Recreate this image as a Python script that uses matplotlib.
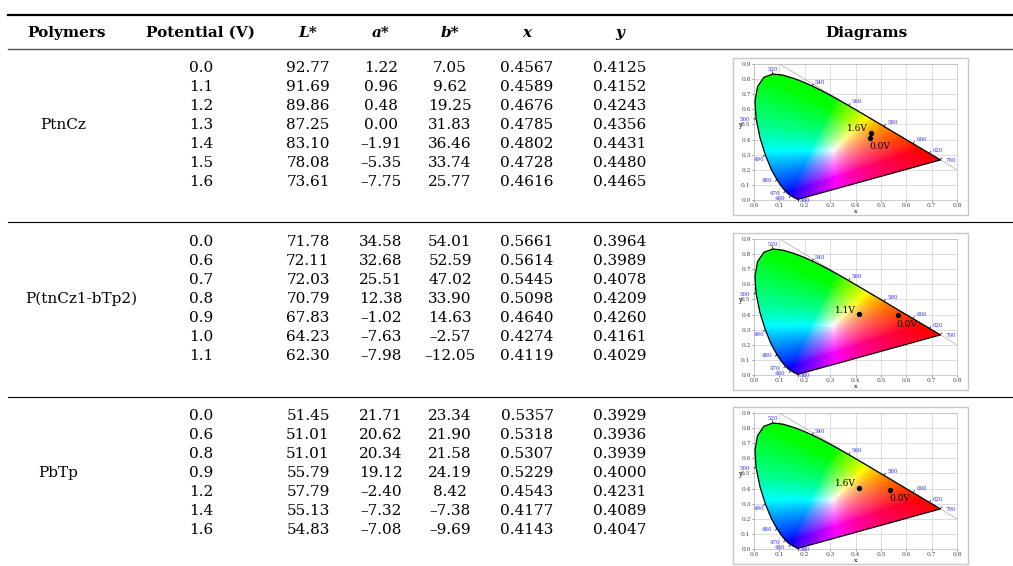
import numpy as np
import matplotlib
matplotlib.use("Agg")
import matplotlib.pyplot as plt
from matplotlib.patches import Polygon, Rectangle

plt.rcParams["font.family"] = ["DejaVu Serif"]

W, H = 1013, 566

# ---- table data ----
polymers = ["PtnCz", "P(tnCz1-bTp2)", "PbTp"]
potentials = [
    ["0.0", "1.1", "1.2", "1.3", "1.4", "1.5", "1.6"],
    ["0.0", "0.6", "0.7", "0.8", "0.9", "1.0", "1.1"],
    ["0.0", "0.6", "0.8", "0.9", "1.2", "1.4", "1.6"],
]
L_star = [
    [92.77, 91.69, 89.86, 87.25, 83.10, 78.08, 73.61],
    [71.78, 72.11, 72.03, 70.79, 67.83, 64.23, 62.30],
    [51.45, 51.01, 51.01, 55.79, 57.79, 55.13, 54.83],
]
a_star = [
    [1.22, 0.96, 0.48, 0.00, -1.91, -5.35, -7.75],
    [34.58, 32.68, 25.51, 12.38, -1.02, -7.63, -7.98],
    [21.71, 20.62, 20.34, 19.12, -2.40, -7.32, -7.08],
]
b_star = [
    [7.05, 9.62, 19.25, 31.83, 36.46, 33.74, 25.77],
    [54.01, 52.59, 47.02, 33.90, 14.63, -2.57, -12.05],
    [23.34, 21.90, 21.58, 24.19, 8.42, -7.38, -9.69],
]
cie_x = [
    [0.4567, 0.4589, 0.4676, 0.4785, 0.4802, 0.4728, 0.4616],
    [0.5661, 0.5614, 0.5445, 0.5098, 0.4640, 0.4274, 0.4119],
    [0.5357, 0.5318, 0.5307, 0.5229, 0.4543, 0.4177, 0.4143],
]
cie_y = [
    [0.4125, 0.4152, 0.4243, 0.4356, 0.4431, 0.4480, 0.4465],
    [0.3964, 0.3989, 0.4078, 0.4209, 0.4260, 0.4161, 0.4029],
    [0.3929, 0.3936, 0.3939, 0.4000, 0.4231, 0.4089, 0.4047],
]

# CIE 1931 spectral locus (nm, x, y)
locus_nm = [380, 390, 400, 410, 420, 430, 440, 450, 460, 465, 470, 475, 480, 485,
            490, 495, 500, 505, 510, 515, 520, 525, 530, 535, 540, 545, 550, 555,
            560, 565, 570, 575, 580, 585, 590, 595, 600, 605, 610, 620, 630, 640,
            650, 660, 680, 700]
locus_x = [0.1741, 0.1738, 0.1733, 0.1726, 0.1714, 0.1689, 0.1644, 0.1566, 0.1440,
           0.1355, 0.1241, 0.1096, 0.0913, 0.0687, 0.0454, 0.0235, 0.0082, 0.0039,
           0.0139, 0.0389, 0.0743, 0.1142, 0.1547, 0.1929, 0.2296, 0.2658, 0.3016,
           0.3373, 0.3731, 0.4087, 0.4441, 0.4788, 0.5125, 0.5448, 0.5752, 0.6029,
           0.6270, 0.6482, 0.6658, 0.6915, 0.7079, 0.7190, 0.7260, 0.7300, 0.7334,
           0.7347]
locus_y = [0.0050, 0.0049, 0.0048, 0.0048, 0.0051, 0.0069, 0.0109, 0.0177, 0.0297,
           0.0399, 0.0578, 0.0868, 0.1327, 0.2007, 0.2950, 0.4127, 0.5384, 0.6548,
           0.7502, 0.8120, 0.8338, 0.8262, 0.8059, 0.7816, 0.7543, 0.7243, 0.6923,
           0.6589, 0.6245, 0.5896, 0.5547, 0.5202, 0.4866, 0.4544, 0.4242, 0.3965,
           0.3725, 0.3514, 0.3340, 0.3083, 0.2920, 0.2809, 0.2740, 0.2700, 0.2666,
           0.2653]
# wavelength labels and their pixel offsets from the locus point
wl_labels = [520, 540, 560, 580, 600, 620, 700, 500, 490, 480, 470, 460, 380]
wl_dx = [0, 8, 8, 9, 9, 8, 10, -11, -6, -10, -10, -10, 7]
wl_dy = [5, 4, 4, 4, 4, 3, -1, -1, -4, -1, -2, -3, -1]


def fx(px):
    return px / W


def fy(py):
    return 1 - py / H


def fmt(v):
    return f"{v:.2f}".replace("-", "\u2013")


def gamut_image(n=500):
    xs = np.linspace(0, 0.8, n)
    ys = np.linspace(0.001, 0.9, n)
    gx, gy = np.meshgrid(xs, ys)
    X = gx / gy
    Y = np.ones_like(gx)
    Z = (1 - gx - gy) / gy
    r = 3.2406 * X - 1.5372 * Y - 0.4986 * Z
    g = -0.9689 * X + 1.8758 * Y + 0.0415 * Z
    b = 0.0557 * X - 0.2040 * Y + 1.0570 * Z
    rgb = np.clip(np.dstack([r, g, b]), 0, None)
    rgb = rgb / np.maximum(rgb.max(axis=2, keepdims=True), 1e-9)
    # mild gamma only, keeps the fan look of the reference
    rgb = rgb ** (1 / 1.4)
    return np.clip(rgb, 0, 1)


fig = plt.figure(figsize=(W / 100, H / 100), dpi=100)

# ---- rules ----
def hline(y, lw, color="black"):
    fig.add_artist(plt.Line2D([fx(8), 1], [fy(y), fy(y)], lw=lw, color=color))

hline(15, 1.6)
hline(49, 1.0, "#555555")
hline(222, 0.8)
hline(397, 0.8)

# ---- header ----
hdr_y = 33
fig.text(fx(67), fy(hdr_y), "Polymers", ha="center", va="center", fontsize=11, weight="bold")
fig.text(fx(201), fy(hdr_y), "Potential (V)", ha="center", va="center", fontsize=11, weight="bold")
for cx, lab in zip([308, 381, 450, 527, 620], ["L*", "a*", "b*", "x", "y"]):
    fig.text(fx(cx), fy(hdr_y), lab, ha="center", va="center", fontsize=11,
             weight="bold", style="italic")
fig.text(fx(866), fy(hdr_y), "Diagrams", ha="center", va="center", fontsize=11, weight="bold")

# ---- body ----
group_top = [68, 242, 416]
row_h = 19
name_cx = [63, 81, 58]
col_cx = [201, 308, 381, 450, 527, 620]
plot_tb = [(64, 200), (239, 375), (413, 549)]
lab_side = [("1.6V", "0.0V"), ("1.1V", "0.0V"), ("1.6V", "0.0V")]

img = gamut_image()
loc = np.column_stack([locus_x, locus_y])

for gi in range(3):
    y0 = group_top[gi]
    fig.text(fx(name_cx[gi]), fy(y0 + 3 * row_h), polymers[gi], ha="center",
             va="center", fontsize=11)
    for ri in range(7):
        yy = fy(y0 + ri * row_h)
        vals = [potentials[gi][ri], fmt(L_star[gi][ri]), fmt(a_star[gi][ri]),
                fmt(b_star[gi][ri]), f"{cie_x[gi][ri]:.4f}", f"{cie_y[gi][ri]:.4f}"]
        for cx, v in zip(col_cx, vals):
            fig.text(fx(cx), yy, v, ha="center", va="center", fontsize=11)

    # diagram box
    top, bot = plot_tb[gi]
    fig.add_artist(Rectangle((fx(733), fy(bot + 15)), fx(968) - fx(733),
                             fy(top - 6) - fy(bot + 15), transform=fig.transFigure,
                             fill=False, edgecolor="#c8c8c8", lw=1.0))
    ax = fig.add_axes([fx(754), fy(bot), fx(957) - fx(754), fy(top) - fy(bot)])
    ax.set_xlim(0, 0.8)
    ax.set_ylim(0, 0.9)
    ax.set_xticks(np.arange(0, 0.81, 0.1))
    ax.set_yticks(np.arange(0, 0.91, 0.1))
    ax.set_xticklabels([f"{v:.1f}" for v in np.arange(0, 0.81, 0.1)])
    ax.set_yticklabels([f"{v:.1f}" for v in np.arange(0, 0.91, 0.1)])
    ax.tick_params(labelsize=4.2, length=1.5, width=0.4, pad=1, colors="#444444")
    ax.grid(color="#d0d0d0", lw=0.5)
    ax.set_axisbelow(True)
    for s in ax.spines.values():
        s.set_color("#bbbbbb")
        s.set_linewidth(0.5)
    ax.set_xlabel("x", fontsize=4.5, labelpad=0.3)
    ax.set_ylabel("y", fontsize=5, labelpad=0, rotation=0)
    ax.yaxis.set_label_coords(-0.07, 0.52)

    ax.plot([0.1, 0.8], [0.9, 0.2], color="#aaaaaa", lw=0.5)
    poly = Polygon(loc, closed=True, transform=ax.transData)
    im = ax.imshow(img, extent=[0, 0.8, 0.001, 0.9], origin="lower", aspect="auto",
                   interpolation="bilinear", zorder=2)
    im.set_clip_path(poly)
    ax.add_patch(Polygon(loc, closed=True, fill=False, edgecolor="black", lw=0.9, zorder=3))

    # wavelength ticks and labels
    pts_px = ax.transData.transform(loc)
    for nm, dx, dy in zip(wl_labels, wl_dx, wl_dy):
        k = locus_nm.index(nm)
        p = loc[k]
        a = pts_px[max(k - 1, 0)]
        b = pts_px[min(k + 1, len(loc) - 1)]
        d = (b - a) / np.hypot(*(b - a))
        nrm = np.array([-d[1], d[0]])
        ax.annotate("", xy=p, xytext=(nrm[0] * 2.5, nrm[1] * 2.5),
                    textcoords="offset pixels",
                    arrowprops=dict(arrowstyle="-", lw=0.5, color="black",
                                    shrinkA=0, shrinkB=0), zorder=4)
        ax.annotate(str(nm), xy=p, xytext=(dx, dy), textcoords="offset pixels",
                    ha="center", va="center", fontsize=4, color="#3030ff",
                    annotation_clip=False, zorder=5)

    # start / end points
    xs_pts = [cie_x[gi][-1], cie_x[gi][0]]
    ys_pts = [cie_y[gi][-1], cie_y[gi][0]]
    ax.scatter(xs_pts, ys_pts, s=8, color="black", zorder=6)
    ax.annotate(lab_side[gi][0], xy=(xs_pts[0], ys_pts[0]), xytext=(-3, 4),
                textcoords="offset pixels", ha="right", va="center", fontsize=6.5,
                zorder=7)
    ax.annotate(lab_side[gi][1], xy=(xs_pts[1], ys_pts[1]), xytext=(-1, -9),
                textcoords="offset pixels", ha="left", va="center", fontsize=6.5,
                zorder=7)

fig.savefig("out.png", dpi=100)
